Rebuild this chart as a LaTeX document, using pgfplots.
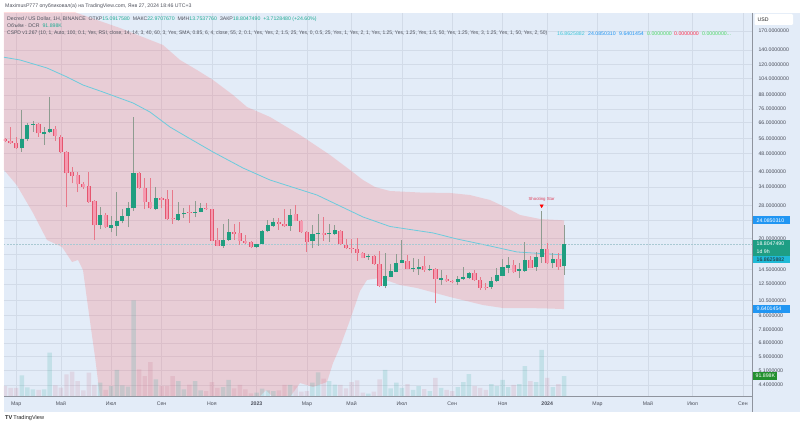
\documentclass[border=0pt]{standalone}
\usepackage{pgfplots}
\pgfplotsset{compat=1.18}
\usepackage{fontspec}
\setmainfont{Liberation Sans}
\definecolor{bgblue}{HTML}{E3ECF8}
\definecolor{gridc}{HTML}{D2DBE8}
\definecolor{bandred}{RGB}{255,82,82}
\definecolor{upg}{HTML}{1F9E80}
\definecolor{wickg}{HTML}{8E9C90}
\definecolor{dnfill}{HTML}{F49AB0}
\definecolor{dnline}{HTML}{E5566F}
\definecolor{wickr}{HTML}{E8798A}
\definecolor{macol}{HTML}{6CCBDD}
\definecolor{txtc}{HTML}{4A4E5A}
\definecolor{hdr}{HTML}{50535E}
\definecolor{valg}{HTML}{22AB94}
\definecolor{tagblue}{HTML}{2196F3}
\definecolor{tagteal}{HTML}{1E9E84}
\definecolor{tagcyan}{HTML}{1FBAD6}
\definecolor{taggreen}{HTML}{23902F}
\definecolor{cspdcyan}{HTML}{3FC7DA}
\definecolor{brgreen}{HTML}{4CD964}
\definecolor{brred}{HTML}{FF2D4B}
\definecolor{volg}{HTML}{26A69A}
\definecolor{volr}{HTML}{C2607A}
\definecolor{sepc}{HTML}{8F949E}
\definecolor{starc}{HTML}{E0405A}
\definecolor{pricel}{HTML}{A9C9D3}
\newcommand{\tf}{\fontsize{5.2}{6}\selectfont}
\pgfplotsset{chartaxis/.style={at={(4pt,-396pt)}, anchor=south west,
  width=748pt, height=383pt, scale only axis, xmin=-0.18, xmax=133.63}}
\begin{document}
\begin{tikzpicture}
\useasboundingbox (0pt,0pt) rectangle (800pt,-425pt);
\begin{scope}[x=1pt,y=-1pt]
 \fill[white] (0,0) rectangle (800,425);
 \fill[bgblue] (4,13) rectangle (800,412);
\end{scope}
% ---------- axis 1: grid, labels, band
\begin{axis}[chartaxis, ymode=log, ymin=3.93, ymax=204.8,
  axis line style={draw=none}, major tick length=0pt, tick style={draw=none},
  xtick={2,10,19,28,37,45,54,62,71,80,89,97,106,115,123,132},
  xticklabels={Мар,Май,Июл,Сен,Ноя,\textbf{2023},Мар,Май,Июл,Сен,Ноя,\textbf{2024},Мар,Май,Июл,Сен},
  xticklabel style={font=\tf, text=txtc, anchor=center, yshift=-8pt},
  ytick={4.4,5.1,5.9,6.8,7.8,9,10.5,12.5,14.5,20,28,34,40,48,56,66,76,88,104,120,140,170},
  yticklabels={4.4000000,5.1000000,5.9000000,6.8000000,7.8000000,9.0000000,10.5000000,12.5000000,14.5000000,20.0000000,28.0000000,34.0000000,40.0000000,48.0000000,56.0000000,66.0000000,76.0000000,88.0000000,104.0000000,120.0000000,140.0000000,170.0000000},
  yticklabel pos=right,
  yticklabel style={font=\tf, text=txtc, anchor=west, xshift=3pt},
  extra y ticks={17,24}, extra y tick labels={},
  grid=major, major grid style={gridc, line width=0.6pt}]
\addplot[draw=none, fill=bandred, fill opacity=0.2] coordinates {
 (-0.18,275) (6.26,241.6) (12.88,204.8) (20.57,175.4) (28.26,147.2) (31.31,126.1)
 (34.35,113.7) (37.21,102.6) (40.79,87.85) (43.29,77.62) (47.41,70.01) (52.77,58.14)
 (58.14,47.29) (61.72,40.51) (64.04,36.53) (66.19,33.99) (68.87,32.61) (74.24,32.11)
 (79.61,31.95) (83.18,31.29) (86.76,29.72) (89.45,27.64) (92.13,25.46) (95.71,24.43)
 (100,24.085)
 (100,9.640) (97.5,9.69) (93.38,9.744) (89.09,9.744) (85.51,10.05) (79.61,10.92)
 (73.7,11.98) (70.66,12.36) (67.08,13.29) (64.76,13.02) (63.51,11.62) (61.72,8.613)
 (59.93,6.518) (58.68,5.525) (57.6,4.541) (55.1,4.313) (52.77,4.495) (50.98,3.89)
 (48.12,3.85) (46.69,4.18) (45.26,3.85) (43.8,3.07) (31.3,2.5) (17.9,2.77) (17.0,3.89)
 (16.1,5.878) (14.85,9.845) (13.95,14.43) (13.06,16.00) (11.99,15.67) (10.2,18.30)
 (7.51,19.67) (5.01,25.99) (2.09,34.70) (-0.18,40.51)} -- cycle;
\end{axis}
% ---------- axis 2: volume (K)
\begin{axis}[chartaxis, ymin=0, ymax=1762, hide axis, ybar, bar width=0.8]
\addplot[fill=volg, fill opacity=0.17, draw=none, bar shift=0pt] coordinates {
 (3,95) (4,40) (5,31) (7,31) (8,199) (17,61) (19,46) (20,120) (21,49) (22,43) (23,440)
 (27,77) (31,68) (32,31) (34,68) (35,26) (39,41) (40,74) (45,15) (46,34) (47,26) (48,23)
 (51,51) (55,61) (56,109) (58,69) (59,52) (65,11) (68,120) (69,35) (70,61) (71,37) (73,28)
 (74,46) (76,23) (78,37) (81,41) (82,64) (83,101) (87,55) (88,46) (89,74) (90,41) (92,55)
 (93,138) (95,64) (96,212) (98,41) (100,91.9)};
\addplot[fill=volr, fill opacity=0.15, draw=none, bar shift=0pt] coordinates {
 (0,46) (1,37) (2,37) (6,28) (9,49) (10,38) (11,100) (12,112) (13,69) (14,26) (15,107)
 (16,51) (18,28) (24,123) (25,92) (26,156) (28,46) (29,46) (30,92) (33,52) (36,23) (37,64)
 (38,37) (41,35) (42,51) (43,31) (44,12) (49,26) (50,51) (52,46) (53,20) (54,23) (57,80)
 (60,51) (61,35) (62,64) (63,72) (64,15) (66,20) (67,77) (72,55) (75,32) (77,83) (79,28)
 (80,23) (84,46) (85,37) (86,28) (91,51) (94,69) (97,83) (99,55)};
\end{axis}
% ---------- axis 3: MA, price line, candles
\begin{axis}[chartaxis, ymode=log, ymin=3.93, ymax=204.8, hide axis, unbounded coords=jump]
\addplot[macol, line width=0.8pt] coordinates {
 (-0.18,129.7) (2.68,126.1) (7.51,116.1) (11.09,105.8) (13.95,97.4) (17.53,90.6) (22.9,80.9)
 (25.94,73.7) (29.52,63.1) (32.56,56.95) (37.21,48.78) (42.58,41.35) (47.41,36.53)
 (55.81,31.29) (64.04,24.94) (68.87,22.61) (76.57,21.15) (80.86,19.87) (86.76,18.49)
 (91.59,17.38) (95.71,17.11) (100,16.86)};
\addplot[color=pricel, line width=0.5pt, dash pattern=on 1.5pt off 1.5pt] coordinates {(-0.18,18.8047) (133.63,18.8047)};
% green wicks
\addplot[wickg, line width=0.9pt] coordinates {
 (3,48.93) (3,75.25) (3,nan) (4,54.81) (4,65.60) (4,nan) (5,60.15) (5,67.38) (5,nan)
 (7,52.44) (7,63.34) (7,nan) (8,59.65) (8,85.79) (8,nan) (17,21.96) (17,27.56) (17,nan)
 (19,21.30) (19,25.20) (19,nan) (20,20.56) (20,32.18) (20,nan) (21,23.37) (21,27.00) (21,nan)
 (22,22.42) (22,29.20) (22,nan) (23,26.53) (23,70.01) (23,nan) (27,26.94) (27,34.10) (27,nan)
 (31,23.93) (31,29.20) (31,nan) (32,24.68) (32,27.28) (32,nan) (34,24.86) (34,29.51) (34,nan)
 (35,26.13) (35,28.72) (35,nan) (39,18.17) (39,23.20) (39,nan) (40,19.47) (40,24.43) (40,nan)
 (45,18.20) (45,18.97) (45,nan) (46,18.78) (46,21.81) (46,nan) (47,21.25) (47,24.18) (47,nan)
 (48,22.49) (48,24.61) (48,nan) (51,21.65) (51,27.08) (51,nan) (55,18.05) (55,22.96) (55,nan)
 (56,18.49) (56,25.73) (56,nan) (58,19.33) (58,23.20) (58,nan) (59,20.71) (59,22.96) (59,nan)
 (65,16.00) (65,17.02) (65,nan) (68,11.95) (68,17.15) (68,nan) (69,13.36) (69,15.35) (69,nan)
 (70,14.06) (70,17.02) (70,nan) (71,15.43) (71,19.67) (71,nan) (73,14.14) (73,16.39) (73,nan)
 (74,13.71) (74,16.12) (74,nan) (76,14.28) (76,15.20) (76,nan) (78,12.36) (78,14.43) (78,nan)
 (81,12.36) (81,13.61) (81,nan) (82,13.02) (82,14.94) (82,nan) (83,13.16) (83,14.06) (83,nan)
 (87,11.86) (87,13.47) (87,nan) (88,12.75) (88,14.69) (88,nan) (89,13.50) (89,16.12) (89,nan)
 (90,13.95) (90,16.56) (90,nan) (92,13.25) (92,15.46) (92,nan) (93,14.14) (93,19.33) (93,nan)
 (95,14.28) (95,17.43) (95,nan) (96,15.56) (96,26.62) (96,nan) (98,14.69) (98,17.15) (98,nan)
 (100,13.75) (100,22.97)};
% red wicks
\addplot[wickr, line width=0.9pt] coordinates {
 (0,54.08) (0,56.37) (0,nan) (1,52.98) (1,63.34) (1,nan) (2,50.32) (2,57.13) (2,nan)
 (6,57.13) (6,65.80) (6,nan) (9,54.81) (9,63.80) (9,nan) (10,48.28) (10,58.14) (10,nan)
 (11,27.56) (11,49.04) (11,nan) (12,35.31) (12,41.65) (12,nan) (13,32.18) (13,39.81) (13,nan)
 (14,33.40) (14,35.89) (14,nan) (15,28.96) (15,39.81) (15,nan) (16,19.67) (16,29.72) (16,nan)
 (18,22.26) (18,26.07) (18,nan) (24,33.30) (24,39.81) (24,nan) (25,27.00) (25,37.18) (25,nan)
 (26,27.08) (26,37.18) (26,nan) (28,27.28) (28,30.65) (28,nan) (29,24.18) (29,32.95) (29,nan)
 (30,23.20) (30,32.95) (30,nan) (33,23.52) (33,28.22) (33,nan) (36,26.81) (36,28.72) (36,nan)
 (37,19.37) (37,27.22) (37,nan) (38,18.39) (38,22.19) (38,nan) (41,19.67) (41,23.20) (41,nan)
 (42,18.68) (42,23.61) (42,nan) (43,18.87) (43,20.65) (43,nan) (44,18.11) (44,19.37) (44,nan)
 (49,21.81) (49,24.61) (49,nan) (50,22.49) (50,27.08) (50,nan) (52,23.81) (52,28.22) (52,nan)
 (53,21.15) (53,24.18) (53,nan) (54,17.43) (54,21.65) (54,nan) (57,19.53) (57,24.86) (57,nan)
 (60,18.68) (60,21.70) (60,nan) (61,17.92) (61,19.81) (61,nan) (62,17.15) (62,19.81) (62,nan)
 (63,15.84) (63,20.02) (63,nan) (64,16.25) (64,17.38) (64,nan) (66,15.24) (66,16.85) (66,nan)
 (67,12.05) (67,17.56) (67,nan) (72,14.51) (72,16.85) (72,nan) (75,14.14) (75,16.73) (75,nan)
 (77,10.24) (77,14.66) (77,nan) (79,12.75) (79,13.71) (79,nan) (80,12.56) (80,13.02) (80,nan)
 (84,12.89) (84,14.43) (84,nan) (85,11.74) (85,13.47) (85,nan) (86,11.68) (86,12.62) (86,nan)
 (91,13.92) (91,16.00) (91,nan) (94,14.66) (94,16.73) (94,nan) (97,15.35) (97,19.01) (97,nan)
 (99,14.43) (99,17.15)};
% green bodies
\addplot[upg, line width=4.2pt] coordinates {
 (3,50.68) (3,55.62) (3,nan) (4,55.62) (4,64.46) (4,nan) (5,64.79) (5,65.46) (5,nan)
 (7,58.55) (7,59.96) (7,nan) (8,59.77) (8,62.05) (8,nan) (17,22.96) (17,25.46) (17,nan)
 (19,22.33) (19,22.96) (19,nan) (20,22.79) (20,24.01) (20,nan) (21,24.01) (21,25.20) (21,nan)
 (22,25.20) (22,27.28) (22,nan) (23,27.28) (23,39.15) (23,nan) (27,27.16) (27,30.43) (27,nan)
 (31,24.18) (31,25.73) (31,nan) (32,25.65) (32,26.07) (32,nan) (34,26.07) (34,26.34) (34,nan)
 (35,26.34) (35,27.44) (35,nan) (39,18.55) (39,19.67) (39,nan) (40,19.67) (40,21.36) (40,nan)
 (45,18.36) (45,18.82) (45,nan) (46,18.97) (46,21.48) (46,nan) (47,21.48) (47,22.89) (47,nan)
 (48,22.72) (48,23.76) (48,nan) (51,22.72) (51,25.46) (51,nan) (55,19.47) (55,20.86) (55,nan)
 (56,20.86) (56,21.21) (56,nan) (58,20.86) (58,21.08) (58,nan) (59,20.93) (59,21.74) (59,nan)
 (65,16.42) (65,16.59) (65,nan) (68,12.23) (68,13.57) (68,nan) (69,13.47) (69,14.28) (69,nan)
 (70,14.18) (70,15.46) (70,nan) (71,15.56) (71,16.00) (71,nan) (73,14.62) (73,14.77) (73,nan)
 (74,14.63) (74,14.89) (74,nan) (76,14.39) (76,14.59) (76,nan) (78,13.02) (78,13.25) (78,nan)
 (81,12.79) (81,13.20) (81,nan) (82,13.12) (82,13.39) (82,nan) (83,13.25) (83,13.95) (83,nan)
 (87,12.07) (87,12.89) (87,nan) (88,12.89) (88,13.67) (88,nan) (89,13.61) (89,14.84) (89,nan)
 (90,14.78) (90,15.20) (90,nan) (92,14.28) (92,14.54) (92,nan) (93,14.33) (93,16.00) (93,nan)
 (95,14.84) (95,16.45) (95,nan) (96,16.45) (96,17.87) (96,nan) (98,15.46) (98,16.12) (98,nan)
 (100,15.09) (100,18.80)};
% red bodies: outline then fill
\addplot[dnline, line width=4.2pt, forget plot] coordinates {
 (0,54.47) (0,55.62) (0,nan) (1,53.36) (1,54.64) (1,nan) (2,50.68) (2,53.36) (2,nan)
 (6,59.16) (6,65.13) (6,nan) (9,57.54) (9,62.05) (9,nan) (10,48.63) (10,57.13) (10,nan)
 (11,39.15) (11,48.63) (11,nan) (12,38.07) (12,39.81) (12,nan) (13,34.94) (13,38.35) (13,nan)
 (14,34.10) (14,34.94) (14,nan) (15,29.20) (15,34.34) (15,nan) (16,22.89) (16,29.41) (16,nan)
 (18,22.49) (18,25.38) (18,nan) (24,33.54) (24,39.40) (24,nan) (25,29.20) (25,33.54) (25,nan)
 (26,27.28) (26,29.20) (26,nan) (28,29.81) (28,30.43) (28,nan) (29,24.36) (29,29.93) (29,nan)
 (30,24.31) (30,24.56) (30,nan) (33,26.05) (33,26.32) (33,nan) (36,27.08) (36,27.36) (36,nan)
 (37,19.53) (37,27.08) (37,nan) (38,18.55) (38,19.67) (38,nan) (41,20.99) (41,21.36) (41,nan)
 (42,19.47) (42,21.08) (42,nan) (43,19.13) (43,19.47) (43,nan) (44,18.36) (44,19.21) (44,nan)
 (49,23.20) (49,23.61) (49,nan) (50,22.65) (50,23.27) (50,nan) (52,24.01) (52,25.73) (52,nan)
 (53,21.30) (53,24.01) (53,nan) (54,19.33) (54,21.30) (54,nan) (57,20.71) (57,21.21) (57,nan)
 (60,18.82) (60,21.59) (60,nan) (61,18.05) (61,18.68) (61,nan) (62,17.92) (62,18.11) (62,nan)
 (63,17.25) (63,17.87) (63,nan) (64,16.39) (64,17.25) (64,nan) (66,15.35) (66,16.73) (66,nan)
 (67,12.27) (67,15.35) (67,nan) (72,14.63) (72,15.84) (72,nan) (75,14.43) (75,15.00) (75,nan)
 (77,13.12) (77,14.59) (77,nan) (79,12.85) (79,13.16) (79,nan) (80,12.71) (80,12.93) (80,nan)
 (84,12.98) (84,13.95) (84,nan) (85,12.02) (85,12.98) (85,nan) (86,12.01) (86,12.13) (86,nan)
 (91,14.18) (91,15.20) (91,nan) (94,14.78) (94,16.00) (94,nan) (97,15.46) (97,17.87) (97,nan)
 (99,14.94) (99,16.12)};
\addplot[dnfill, line width=2.6pt] coordinates {
 (0,54.47) (0,55.62) (0,nan) (1,53.36) (1,54.64) (1,nan) (2,50.68) (2,53.36) (2,nan)
 (6,59.16) (6,65.13) (6,nan) (9,57.54) (9,62.05) (9,nan) (10,48.63) (10,57.13) (10,nan)
 (11,39.15) (11,48.63) (11,nan) (12,38.07) (12,39.81) (12,nan) (13,34.94) (13,38.35) (13,nan)
 (14,34.10) (14,34.94) (14,nan) (15,29.20) (15,34.34) (15,nan) (16,22.89) (16,29.41) (16,nan)
 (18,22.49) (18,25.38) (18,nan) (24,33.54) (24,39.40) (24,nan) (25,29.20) (25,33.54) (25,nan)
 (26,27.28) (26,29.20) (26,nan) (28,29.81) (28,30.43) (28,nan) (29,24.36) (29,29.93) (29,nan)
 (30,24.31) (30,24.56) (30,nan) (33,26.05) (33,26.32) (33,nan) (36,27.08) (36,27.36) (36,nan)
 (37,19.53) (37,27.08) (37,nan) (38,18.55) (38,19.67) (38,nan) (41,20.99) (41,21.36) (41,nan)
 (42,19.47) (42,21.08) (42,nan) (43,19.13) (43,19.47) (43,nan) (44,18.36) (44,19.21) (44,nan)
 (49,23.20) (49,23.61) (49,nan) (50,22.65) (50,23.27) (50,nan) (52,24.01) (52,25.73) (52,nan)
 (53,21.30) (53,24.01) (53,nan) (54,19.33) (54,21.30) (54,nan) (57,20.71) (57,21.21) (57,nan)
 (60,18.82) (60,21.59) (60,nan) (61,18.05) (61,18.68) (61,nan) (62,17.92) (62,18.11) (62,nan)
 (63,17.25) (63,17.87) (63,nan) (64,16.39) (64,17.25) (64,nan) (66,15.35) (66,16.73) (66,nan)
 (67,12.27) (67,15.35) (67,nan) (72,14.63) (72,15.84) (72,nan) (75,14.43) (75,15.00) (75,nan)
 (77,13.12) (77,14.59) (77,nan) (79,12.85) (79,13.16) (79,nan) (80,12.71) (80,12.93) (80,nan)
 (84,12.98) (84,13.95) (84,nan) (85,12.02) (85,12.98) (85,nan) (86,12.01) (86,12.13) (86,nan)
 (91,14.18) (91,15.20) (91,nan) (94,14.78) (94,16.00) (94,nan) (97,15.46) (97,17.87) (97,nan)
 (99,14.94) (99,16.12)};
\addplot[only marks, mark=triangle*, mark size=1.9pt, color=red, mark options={rotate=180}] coordinates {(96,28.0)};
\node[font=\fontsize{4.3}{5}\selectfont, text=starc] at (axis cs:96,29.9) {Shooting Star};
\end{axis}
% ---------- overlays in pixel coordinates
\begin{scope}[x=1pt,y=-1pt]
 \draw[sepc, line width=0.6pt] (4,396.5) -- (752.5,396.5);
 \draw[sepc, line width=0.6pt] (752.5,13) -- (752.5,412);
 \node[anchor=west, inner sep=0, text=hdr, font=\tf] at (5,6.5) {MaximusP777 опубликовал(а) на TradingView.com, Янв 27, 2024 18:46 UTC+3};
 \node[anchor=west, inner sep=0, text=hdr, font=\tf] at (7,19) {Decred / US Dollar, 1Н, BINANCE\ \ ОТКР\textcolor{valg}{15.0917580}\ \ МАКС\textcolor{valg}{22.9707670}\ \ МИН\textcolor{valg}{13.7537760}\ \ ЗАКР\textcolor{valg}{18.8047490}\ \ \textcolor{valg}{+3.7128480 (+24.60\%)}};
 \node[anchor=west, inner sep=0, text=hdr, font=\tf] at (7,26) {Объём · DCR\ \ \textcolor{valg}{91.898K}};
 \node[anchor=west, inner sep=0, text=hdr, font=\tf] at (7,33.5) {\scalebox{0.955}[1]{CSPD v1.267 (10, 1, Auto, 100, 0.1, Yes, RSI, close, 14, 14, 3, 40, 60, 3, Yes, SMA, 0.85, 6, 4, close, 55, 2, 0.1, Yes, Yes, 2, 1.5, 25, Yes, 0, 0.5, 25, Yes, 1, Yes, 2, 1, Yes, 1.25, Yes, 1.25, Yes, 1.5, 50, Yes, 1.25, Yes, 3, 1.25, Yes, 1, 50, Yes, 2, 50)}};
 \node[anchor=west, inner sep=0, text=cspdcyan, font=\tf] at (557,33.5) {16.8625882};
 \node[anchor=west, inner sep=0, text=tagblue, font=\tf] at (588,33.5) {24.0850310};
 \node[anchor=west, inner sep=0, text=tagblue, font=\tf] at (619,33.5) {9.6401454};
 \node[anchor=west, inner sep=0, text=brgreen, font=\tf] at (647,33.5) {0.0000000};
 \node[anchor=west, inner sep=0, text=brred, font=\tf] at (674,33.5) {0.0000000};
 \node[anchor=west, inner sep=0, text=brgreen, font=\tf] at (702,33.5) {0.0000000...};
 % price scale
 \fill[white, rounded corners=1.2pt] (754.5,14) rectangle (793,25);
 \node[anchor=west, inner sep=0, text=black!85, font=\tf] at (757.5,19.5) {USD};
 \fill[tagblue] (753,216.4) rectangle (790,224.4);
 \node[anchor=west, inner sep=0, text=white, font=\tf] at (756.5,220.4) {24.0850310};
 \fill[tagteal] (753,240) rectangle (790,255.5);
 \node[anchor=west, inner sep=0, text=white, font=\tf] at (756.5,244.2) {18.8047490};
 \node[anchor=west, inner sep=0, text=white, font=\tf] at (756.5,251.2) {1d 9h};
 \fill[tagcyan] (753,255.5) rectangle (790,263);
 \node[anchor=west, inner sep=0, text=black!85, font=\tf] at (756.5,259.3) {16.8625882};
 \fill[tagblue] (753,305) rectangle (790,313);
 \node[anchor=west, inner sep=0, text=white, font=\tf] at (756.5,309) {9.6401454};
 \fill[taggreen] (753,372) rectangle (777,380);
 \node[anchor=west, inner sep=0, text=white, font=\tf] at (755.5,376) {91.898K};
 % logo
 \node[anchor=west, inner sep=0, text=black!85, font=\fontsize{5.6}{6}\selectfont] at (5,418.5) {\textbf{TV}\,TradingView};
\end{scope}
\end{tikzpicture}
\end{document}
